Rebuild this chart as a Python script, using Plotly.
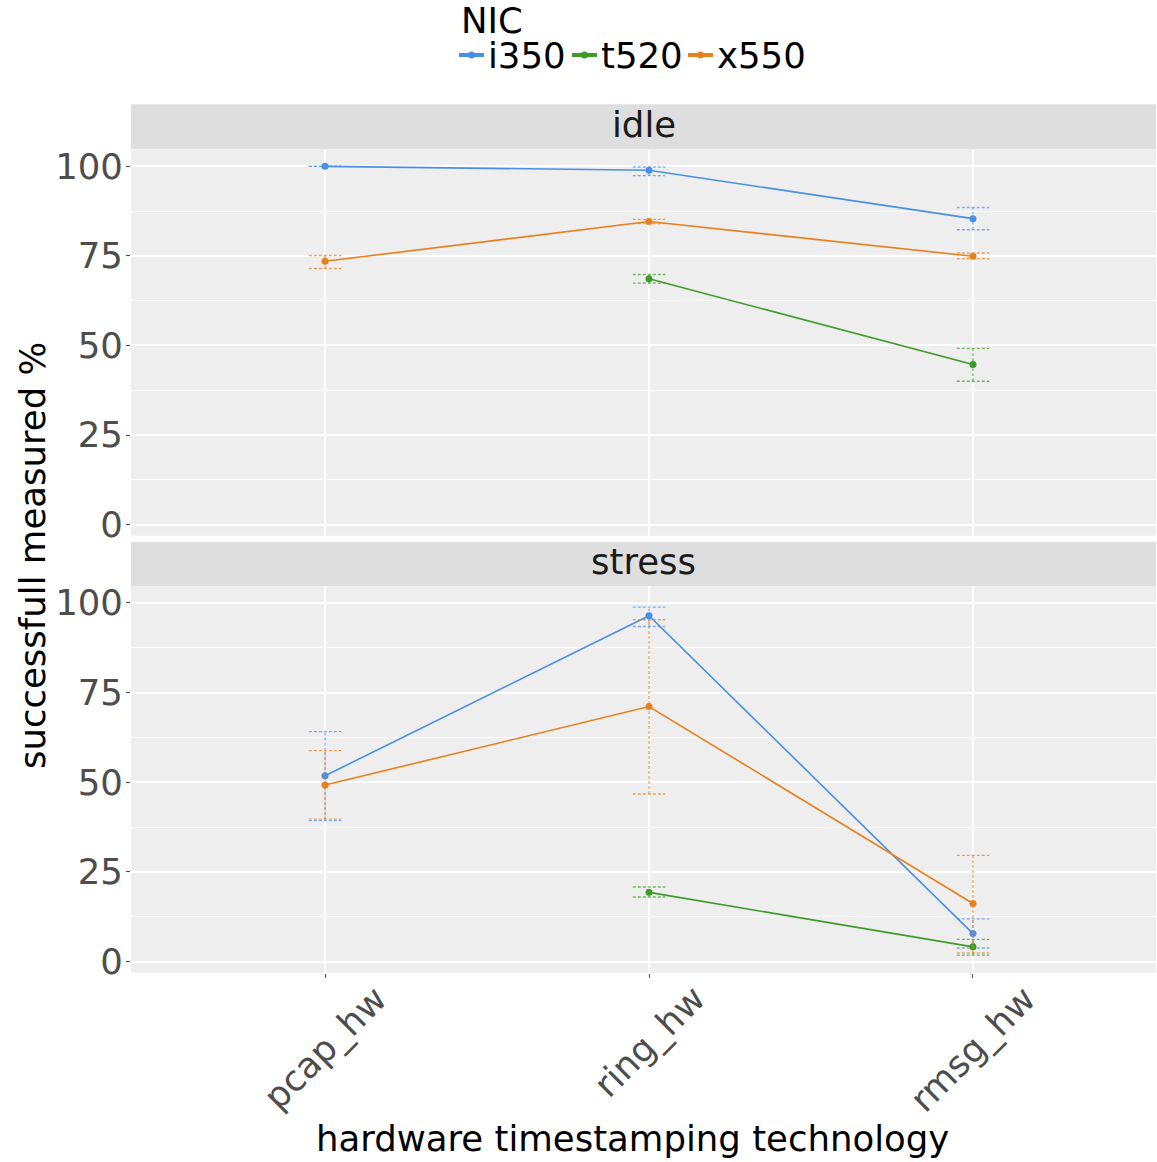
import plotly.graph_objects as go

# Hardware timestamping success rates per NIC, split by load condition
techs = ["pcap_hw", "ring_hw", "rmsg_hw"]
nics = ["i350", "t520", "x550"]
colors = {"i350": "#4A8FE7", "t520": "#3E9B2A", "x550": "#E8801E"}

# idle condition: mean, upper and lower bound (None = not measured)
idle_mean = {
    "i350": [100.0, 98.9, 85.4],
    "t520": [None, 68.6, 44.7],
    "x550": [73.5, 84.6, 74.9],
}
idle_upper = {
    "i350": [100.0, 99.8, 88.5],
    "t520": [None, 69.8, 49.2],
    "x550": [75.1, 85.2, 75.8],
}
idle_lower = {
    "i350": [100.0, 97.4, 82.3],
    "t520": [None, 67.4, 40.0],
    "x550": [71.5, 84.0, 74.2],
}

# stress condition
stress_mean = {
    "i350": [51.8, 96.4, 7.8],
    "t520": [None, 19.3, 4.1],
    "x550": [49.2, 71.1, 16.2],
}
stress_upper = {
    "i350": [64.1, 98.8, 11.9],
    "t520": [None, 20.8, 6.2],
    "x550": [58.8, 95.3, 29.6],
}
stress_lower = {
    "i350": [39.3, 93.4, 3.8],
    "t520": [None, 18.0, 1.8],
    "x550": [39.7, 46.7, 2.4],
}

panels = [
    ("idle", idle_mean, idle_upper, idle_lower, "x2", "y2"),
    ("stress", stress_mean, stress_upper, stress_lower, "x", "y"),
]

CAP = 0.05
FONT = "DejaVu Sans"
FS = 35.5
W, H = 1157, 1162


def rgba(hexcol, a):
    h = hexcol.lstrip("#")
    r, g, b = int(h[0:2], 16), int(h[2:4], 16), int(h[4:6], 16)
    return f"rgba({r},{g},{b},{a})"


fig = go.Figure()

for pname, mean, upper, lower, xa, ya in panels:
    for nic in nics:
        xs = [i for i, v in enumerate(mean[nic]) if v is not None]
        ys = [mean[nic][i] for i in xs]
        # dotted error bars with caps
        ex, ey = [], []
        for i in xs:
            lo, hi = lower[nic][i], upper[nic][i]
            ex += [i, i, None, i - CAP, i + CAP, None, i - CAP, i + CAP, None]
            ey += [lo, hi, None, hi, hi, None, lo, lo, None]
        fig.add_trace(go.Scatter(
            x=ex, y=ey, mode="lines", xaxis=xa, yaxis=ya,
            line=dict(color=rgba(colors[nic], 0.7), width=1.4, dash="3px,2px"),
            showlegend=False, hoverinfo="skip",
        ))
        fig.add_trace(go.Scatter(
            x=xs, y=ys, mode="lines+markers", xaxis=xa, yaxis=ya,
            name=nic, legendgroup=nic, showlegend=False,
            line=dict(color=colors[nic], width=1.6),
            marker=dict(color=colors[nic], size=7),
        ))

XDOM = [131 / W, 1156 / W]
YRANGE = [-3.1, 104.7]
grid_common = dict(
    showgrid=True, gridcolor="white", gridwidth=1.6,
    zeroline=False, showline=False, automargin=False,
)
yaxis_common = dict(
    range=YRANGE, tickvals=[0, 25, 50, 75, 100],
    ticks="outside", ticklen=4, tickcolor="#4d4d4d", tickwidth=1,
    ticklabelstandoff=-4,
    tickfont=dict(family=FONT, size=FS, color="#4d4d4d"),
    minor=dict(tickvals=[12.5, 37.5, 62.5, 87.5], showgrid=True,
               gridcolor="white", gridwidth=0.8, ticks=""),
    **grid_common,
)
xaxis_common = dict(
    range=[-0.599, 2.565], tickvals=[0, 1, 2], ticktext=techs,
    showticklabels=False, domain=XDOM, **grid_common,
)

fig.update_layout(
    width=W, height=H,
    margin=dict(l=0, r=0, t=0, b=0),
    paper_bgcolor="white",
    plot_bgcolor="#EEEEEE",
    showlegend=False,
    xaxis=dict(anchor="y", ticks="outside", ticklen=4, tickcolor="#4d4d4d",
               **xaxis_common),
    xaxis2=dict(anchor="y2", matches="x", ticks="", **xaxis_common),
    yaxis=dict(anchor="x", domain=[189.3 / H, 576 / H], **yaxis_common),
    yaxis2=dict(anchor="x2", domain=[626.3 / H, 1012.5 / H], **yaxis_common),
)

# legend: title plus one key (line with dot) and label per NIC
fig.add_annotation(x=459 / W, y=1 - 20 / H, xref="paper", yref="paper",
                   text="NIC", showarrow=False, xanchor="left", yanchor="middle",
                   height=30, valign="middle",
                   font=dict(family=FONT, size=FS, color="black"))
key_left = {"i350": 459, "t520": 572, "x550": 688}
KEY_LEN, KEY_Y = 25, 1 - 55 / H
for nic in nics:
    x0 = key_left[nic] / W
    x1 = (key_left[nic] + KEY_LEN) / W
    fig.add_shape(type="line", xref="paper", yref="paper",
                  x0=x0, x1=x1, y0=KEY_Y, y1=KEY_Y,
                  line=dict(color=colors[nic], width=4))
    fig.add_shape(type="circle", xref="paper", yref="paper",
                  xsizemode="pixel", ysizemode="pixel",
                  xanchor=(x0 + x1) / 2, yanchor=KEY_Y,
                  x0=-3.5, x1=3.5, y0=-3.5, y1=3.5,
                  fillcolor=colors[nic], line=dict(width=0))
    fig.add_annotation(x=(key_left[nic] + KEY_LEN + 2) / W, y=1 - 55 / H,
                       xref="paper", yref="paper", text=nic, showarrow=False,
                       xanchor="left", yanchor="middle",
                       height=30, valign="middle",
                       font=dict(family=FONT, size=FS, color="black"))

# facet strips
for top, bottom, label in [(104.3, 149.3, "idle"), (541.7, 586, "stress")]:
    fig.add_shape(type="rect", xref="paper", yref="paper",
                  x0=XDOM[0], x1=XDOM[1], y0=1 - bottom / H, y1=1 - top / H,
                  fillcolor="#DEDEDE", line=dict(width=0), layer="below")
    fig.add_annotation(x=(XDOM[0] + XDOM[1]) / 2,
                       y=1 - ((top + bottom) / 2 - 2.5) / H,
                       xref="paper", yref="paper", text=label, showarrow=False,
                       font=dict(family=FONT, size=FS, color="#1a1a1a"),
                       xanchor="center", yanchor="middle")

# rotated category labels, centred under each tick
for i, t in enumerate(techs):
    fig.add_annotation(x=i, xref="x", y=1 - 975 / H, yref="paper", text=t,
                       textangle=-45, showarrow=False,
                       xanchor="center", yanchor="top",
                       font=dict(family=FONT, size=FS, color="#4d4d4d"))

# axis titles
fig.add_annotation(x=32 / W, y=1 - 556 / H, xref="paper", yref="paper",
                   text="successfull measured %", textangle=-90, showarrow=False,
                   font=dict(family=FONT, size=FS, color="black"),
                   xanchor="center", yanchor="middle")
fig.add_annotation(x=632 / W, y=1 - 1138 / H, xref="paper", yref="paper",
                   text="hardware timestamping technology", showarrow=False,
                   font=dict(family=FONT, size=FS, color="black"),
                   xanchor="center", yanchor="middle")

fig.write_html("out.html")
